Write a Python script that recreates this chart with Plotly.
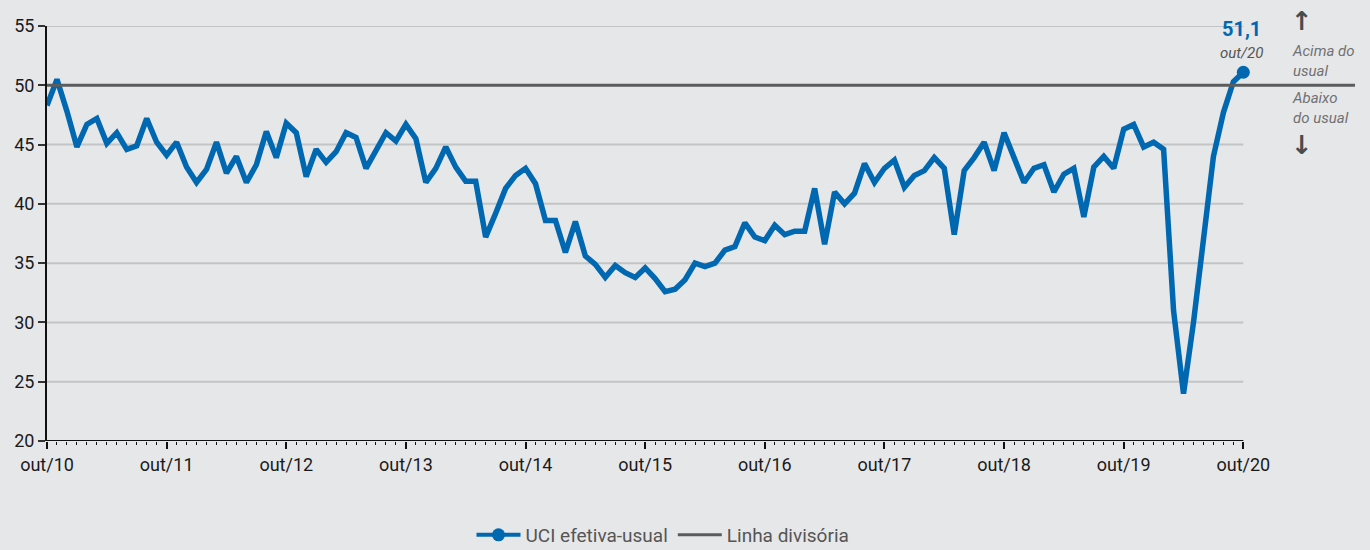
import plotly.graph_objects as go

# ---- data (monthly, out/10 .. out/20) ----
uci_values = [
    48.3, 50.5, 47.8, 44.8, 46.7, 47.2, 45.1, 46.0, 44.6, 44.9,
    47.2, 45.2, 44.1, 45.2, 43.1, 41.8, 42.9, 45.2, 42.6, 44.0,
    41.8, 43.3, 46.1, 43.9, 46.8, 46.0, 42.3, 44.6, 43.5, 44.4,
    46.0, 45.6, 43.0, 44.4, 46.0, 45.3, 46.7, 45.5, 41.8, 43.0,
    44.8, 43.1, 41.9, 41.9, 37.2, 39.2, 41.3, 42.4, 43.0, 41.7,
    38.6, 38.6, 35.9, 38.5, 35.6, 34.9, 33.8, 34.8, 34.2, 33.8,
    34.6, 33.7, 32.6, 32.8, 33.6, 35.0, 34.7, 35.0, 36.1, 36.4,
    38.4, 37.2, 36.9, 38.2, 37.4, 37.7, 37.7, 41.3, 36.6, 41.0,
    40.0, 40.9, 43.4, 41.8, 43.0, 43.7, 41.4, 42.4, 42.8, 43.9,
    43.0, 37.4, 42.8, 43.9, 45.2, 42.8, 46.0, 43.9, 41.8, 43.0,
    43.3, 41.0, 42.5, 43.0, 38.9, 43.1, 44.0, 43.0, 46.3, 46.7,
    44.8, 45.2, 44.6, 31.0, 24.0, 30.0, 36.8, 44.0, 47.7, 50.3,
    51.1,
]
month_index = list(range(len(uci_values)))
tick_labels = ["out/10", "out/11", "out/12", "out/13", "out/14", "out/15",
               "out/16", "out/17", "out/18", "out/19", "out/20"]
tick_positions = [12 * k for k in range(len(tick_labels))]
y_ticks = [20, 25, 30, 35, 40, 45, 50, 55]
divider_value = 50
last_label = "51,1"
last_period = "out/20"

BLUE = "#0067b1"
BG = "#e6e7e9"
GRID = "#c3c4c6"
DIV = "#5b5c5e"
FONT = "Roboto, Liberation Sans, sans-serif"

X_MAX = 131.2
last_x = month_index[-1]

L, R, T, B = 47, 15, 26, 109
W, H = 1370 - L - R, 550 - T - B


def px(xp):
    return (xp - L) / W


def py(yp):
    return (550 - B - yp) / H


fig = go.Figure()

# main line
fig.add_trace(go.Scatter(
    x=month_index, y=uci_values, mode="lines",
    line=dict(color=BLUE, width=5.5), showlegend=False,
    legendgroup="uci", hoverinfo="x+y"))
# final point (also legend entry)
fig.add_trace(go.Scatter(
    x=[last_x], y=[uci_values[-1]], mode="lines+markers",
    line=dict(color=BLUE, width=4), marker=dict(color=BLUE, size=13),
    name="UCI efetiva-usual", legendgroup="uci", cliponaxis=False))
# divider line
fig.add_trace(go.Scatter(
    x=[0, X_MAX], y=[divider_value, divider_value], mode="lines",
    line=dict(color=DIV, width=3), name="Linha divisória"))

# gridlines (only up to the last month)
shapes = []
for v in y_ticks[1:]:
    if v == divider_value:
        continue
    shapes.append(dict(type="line", xref="x", yref="y", x0=0, x1=last_x,
                       y0=v, y1=v, line=dict(color=GRID, width=2), layer="below"))
# bottom axis line
shapes.append(dict(type="line", xref="x", yref="y", x0=0, x1=last_x,
                   y0=y_ticks[0], y1=y_ticks[0], line=dict(color="#111", width=2)))
fig.update_layout(shapes=shapes)

annotations = [
    dict(x=last_x, y=uci_values[-1], xref="x", yref="y", text="<b>" + last_label + "</b>",
         showarrow=False, yshift=43, xshift=-2, xanchor="center", yanchor="middle",
         font=dict(family=FONT, size=20, color=BLUE)),
    dict(x=last_x, y=uci_values[-1], xref="x", yref="y", text="<i>" + last_period + "</i>",
         showarrow=False, yshift=19, xshift=-2, xanchor="center", yanchor="middle",
         font=dict(family=FONT, size=15, color="#555")),
    dict(x=px(1302), y=py(21), xref="paper", yref="paper", text="<b>↑</b>",
         xanchor="center", yanchor="middle",
         showarrow=False, font=dict(family="DejaVu Sans", size=26, color="#4a4b4d")),
    dict(x=px(1290), y=py(61), xref="paper", yref="paper", xanchor="left",
         yanchor="middle", text="<i>Acima do<br>usual</i>", showarrow=False, align="left",
         font=dict(family=FONT, size=15, color="#707173")),
    dict(x=px(1290), y=py(108), xref="paper", yref="paper", xanchor="left",
         yanchor="middle", text="<i>Abaixo<br>do usual</i>", showarrow=False, align="left",
         font=dict(family=FONT, size=15, color="#707173")),
    dict(x=px(1302), y=py(145), xref="paper", yref="paper", text="<b>↓</b>",
         xanchor="center", yanchor="middle",
         showarrow=False, font=dict(family="DejaVu Sans", size=26, color="#4a4b4d")),
]
fig.update_layout(annotations=annotations)

fig.update_layout(
    width=1370, height=550,
    margin=dict(l=L, r=R, t=T, b=B, autoexpand=False),
    paper_bgcolor=BG, plot_bgcolor=BG,
    font=dict(family=FONT, size=18, color="#1a1a1a"),
    xaxis=dict(range=[0, X_MAX], tickmode="array", tickvals=tick_positions,
               ticktext=tick_labels, ticks="outside", ticklen=7, tickwidth=2,
               tickcolor="#111", showgrid=False, zeroline=False, showline=False,
               minor=dict(tickmode="array", tickvals=month_index, ticks="outside",
                          ticklen=3, tickwidth=1, tickcolor="#111", showgrid=False),
               tickfont=dict(size=18, color="#1a1a1a")),
    yaxis=dict(range=[20, 55], tickmode="array", tickvals=y_ticks, ticks="outside",
               ticklen=7, tickwidth=2, tickcolor="#333", showgrid=False,
               zeroline=False, showline=True, linecolor="#111", linewidth=2,
               tickfont=dict(size=18, color="#1a1a1a")),
    legend=dict(orientation="h", x=px(663), xanchor="center", y=py(535),
                yanchor="middle", bgcolor="rgba(0,0,0,0)", itemwidth=44,
                font=dict(family=FONT, size=19, color="#555")),
    hovermode="closest",
)

fig.write_html(
    "out.html",
    config={"displayModeBar": False},
    post_script="document.body.style.margin='0';document.body.style.background='%s';" % BG,
)
